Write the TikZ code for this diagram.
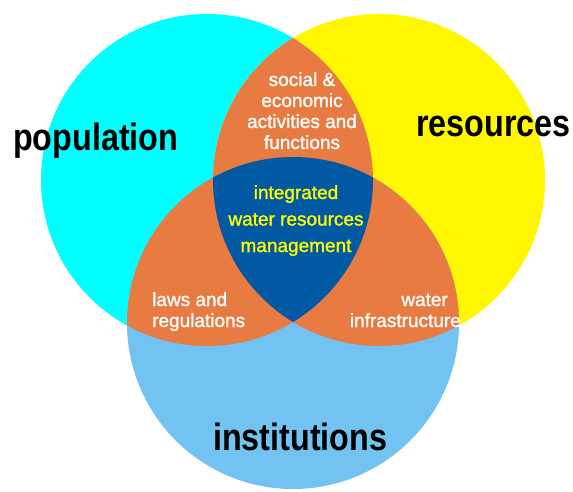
\documentclass[tikz,border=0pt]{standalone}
\usepackage{fontspec}
\usepackage{graphicx}
\setmainfont{Liberation Sans}
\newfontfamily\labelfont[FakeBold=1.2]{Liberation Sans}
\definecolor{cC}{HTML}{00FFFF}
\definecolor{cY}{HTML}{FFF700}
\definecolor{cB}{HTML}{72C2F2}
\definecolor{cO}{HTML}{E87B42}
\definecolor{cD}{HTML}{0059A2}
\definecolor{cT}{HTML}{FFFF00}
\tikzset{
  biglabel/.style={inner sep=0pt, anchor=base west, text=black, font=\fontsize{38}{40}\selectfont\bfseries},
  whitelabel/.style={inner sep=0pt, text=white, font=\labelfont\fontsize{19}{21}\selectfont},
  centerlabel/.style={inner sep=0pt, text=cT, font=\labelfont\fontsize{19}{26.5}\selectfont, align=center}
}
\begin{document}
\begin{tikzpicture}[x=1pt,y=-1pt]
\fill[white] (0,0) rectangle (573,492);
\useasboundingbox (0,0) rectangle (573,492);
\coordinate (pc) at (207,180);
\coordinate (py) at (379,180);
\coordinate (pb) at (293,323);
\fill[cC] (pc) circle[radius=166pt];
\fill[cY] (py) circle[radius=166pt];
\fill[cB] (pb) circle[radius=166pt];
\begin{scope}
  \clip (pc) circle[radius=166pt];
  \fill[cO] (py) circle[radius=166pt];
  \fill[cO] (pb) circle[radius=166pt];
\end{scope}
\begin{scope}
  \clip (py) circle[radius=166pt];
  \fill[cO] (pb) circle[radius=166pt];
\end{scope}
\begin{scope}
  \clip (pc) circle[radius=166pt];
  \clip (py) circle[radius=166pt];
  \fill[cD] (pb) circle[radius=166pt];
\end{scope}
\node[biglabel] (pop) at (13,150) {\scalebox{0.85}[1]{population}};
\node[biglabel] (res) at (416,137) {\scalebox{0.85}[1]{resources}};
\node[biglabel] (ins) at (213,450) {\scalebox{0.85}[1]{institutions}};
\node[whitelabel, align=center, anchor=base] (soc) at (302,149) {social \&\\economic\\activities and\\functions};
\node[centerlabel, anchor=base] (iwrm) at (296,252) {integrated\\water resources\\management};
\node[whitelabel, align=left, anchor=base west] (laws) at (152,327) {laws and\\regulations};
\node[whitelabel, align=right, anchor=base east] (wat) at (461,327) {water\hspace*{13pt}\\infrastructure};
\end{tikzpicture}
\end{document}
